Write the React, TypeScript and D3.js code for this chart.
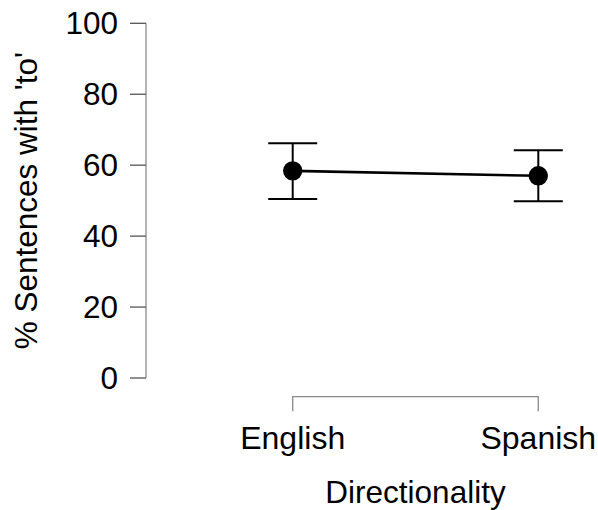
import React from "react";
import * as d3 from "d3";

const categories = ["English", "Spanish"];
const means = [58.4, 57.0];
const lower = [50.5, 49.8];
const upper = [66.2, 64.2];
const yTicks = [0, 20, 40, 60, 80, 100];

const W = 598;
const H = 510;
const FONT = "Liberation Sans, Arial, sans-serif";

export default function App() {
  const x = d3.scalePoint<string>().domain(categories).range([292.7, 538.3]);
  const y = d3.scaleLinear().domain([0, 100]).range([378, 23.3]);
  const axisX = 146;
  const axisY = 396.7;
  const capHalf = 24.5;
  const line = d3
    .line<number>()
    .x((_, i) => x(categories[i])!)
    .y((d) => y(d));
  const axisColor = "#8a8a8a";
  return (
    <svg
      width={W}
      height={H}
      style={{ position: "absolute", left: 0, top: 0, background: "#fff" }}
      fontFamily={FONT}
    >
      {/* Y axis */}
      <line x1={axisX} x2={axisX} y1={y(0)} y2={y(100)} stroke={axisColor} strokeWidth={1.3} />
      {yTicks.map((t) => (
        <g key={t}>
          <line x1={axisX - 16} x2={axisX} y1={y(t)} y2={y(t)} stroke="#555" strokeWidth={1.3} />
          <text x={118} y={y(t)} dy="0.35em" textAnchor="end" fontSize={31.5} fill="#000">
            {t}
          </text>
        </g>
      ))}
      <text
        transform={`translate(37, ${(y(0) + y(100)) / 2}) rotate(-90)`}
        textAnchor="middle"
        fontSize={31.5}
        fill="#000"
      >
        % Sentences with 'to'
      </text>
      {/* X axis */}
      <path
        d={`M${x(categories[0])},${axisY + 14.5}V${axisY}H${x(categories[1])}V${axisY + 14.5}`}
        fill="none"
        stroke={axisColor}
        strokeWidth={1.3}
      />
      {categories.map((c) => (
        <text key={c} x={x(c)} y={449} textAnchor="middle" fontSize={32} fill="#000">
          {c}
        </text>
      ))}
      <text x={(x(categories[0])! + x(categories[1])!) / 2} y={503} textAnchor="middle" fontSize={31.5} fill="#000">
        Directionality
      </text>
      {/* error bars */}
      {categories.map((c, i) => (
        <g key={c} stroke="#000" strokeWidth={2}>
          <line x1={x(c)} x2={x(c)} y1={y(lower[i])} y2={y(upper[i])} />
          <line x1={x(c)! - capHalf} x2={x(c)! + capHalf} y1={y(lower[i])} y2={y(lower[i])} />
          <line x1={x(c)! - capHalf} x2={x(c)! + capHalf} y1={y(upper[i])} y2={y(upper[i])} />
        </g>
      ))}
      <path d={line(means) || ""} fill="none" stroke="#000" strokeWidth={2.6} />
      {categories.map((c, i) => (
        <circle key={c} cx={x(c)} cy={y(means[i])} r={9.7} fill="#000" />
      ))}
    </svg>
  );
}
